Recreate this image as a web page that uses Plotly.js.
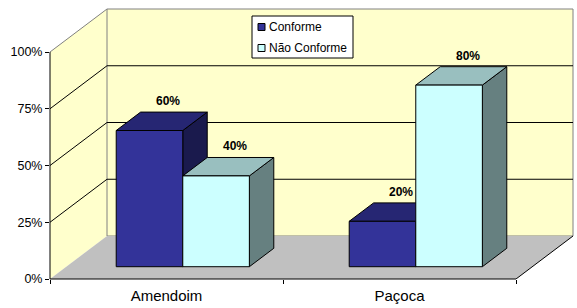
<!DOCTYPE html>
<html>
<head>
<meta charset="utf-8">
<script src="https://cdn.plot.ly/plotly-3.0.1.min.js"></script>
<style>html,body{margin:0;padding:0;background:#fff;}#chart{width:577px;height:308px;}</style>
</head>
<body>
<div id="chart"></div>
<script>
// ---- data ----
const categories = ['Amendoim', 'Paçoca'];
const seriesNames = ['Conforme', 'Não Conforme'];
const conforme = [60, 20];
const naoConforme = [40, 80];
const yTickValues = [0, 25, 50, 75, 100];
const yTickLabels = ['0%', '25%', '50%', '75%', '100%'];

// ---- styling / projection constants ----
const FONT = 'Liberation Sans, Arial, sans-serif';
const frontColors = ['#333399', '#CCFFFF'];
const topColors = ['#262673', '#99BFBF'];
const sideColors = ['#1A1A4D', '#668080'];
const WALL = '#FFFFCC', FLOOR = '#C0C0C0', EDGE = '#808080';
const M = {l: 50, r: 3, t: 8, b: 29};
const W_PX = 577, H_PX = 308;
const PX_PER_CAT = 233, PX_PER_PCT = 2.27;
const XR = (W_PX - M.l - M.r) / PX_PER_CAT;
const YR = (H_PX - M.t - M.b) / PX_PER_PCT;
const DX = 57 / PX_PER_CAT;   // depth offset in x units
const DY = 43 / PX_PER_PCT;   // depth offset in y units
const BW = 1 / 3.5;           // bar width (gap 150%)
const D0 = 0.2857, D1 = 0.7143; // bar depth range
const NCAT = categories.length;
const YMAX = yTickValues[yTickValues.length - 1];

function P(x, y, d) { return [x + d * DX, y + d * DY]; }
function poly(pts, close) { return 'M' + pts.map(p => p[0] + ',' + p[1]).join('L') + (close ? 'Z' : ''); }

const shapes = [];
// left wall
shapes.push({type: 'path', xref: 'x', yref: 'y', layer: 'below',
  path: poly([P(0, 0, 0), P(0, YMAX, 0), P(0, YMAX, 1), P(0, 0, 1)], true),
  fillcolor: WALL, line: {width: 0}});
// back wall
shapes.push({type: 'path', xref: 'x', yref: 'y', layer: 'below',
  path: poly([P(0, 0, 1), P(0, YMAX, 1), P(NCAT, YMAX, 1), P(NCAT, 0, 1)], true),
  fillcolor: WALL, line: {color: EDGE, width: 1}});
// floor
shapes.push({type: 'path', xref: 'x', yref: 'y', layer: 'below',
  path: poly([P(0, 0, 0), P(NCAT, 0, 0), P(NCAT, 0, 1), P(0, 0, 1)], true),
  fillcolor: FLOOR, line: {width: 0}});
// floor right edge
shapes.push({type: 'path', xref: 'x', yref: 'y', layer: 'below',
  path: poly([P(NCAT, 0, 0), P(NCAT, 0, 1)], false), line: {color: '#000', width: 1}});
// left wall top edge
shapes.push({type: 'path', xref: 'x', yref: 'y', layer: 'below',
  path: poly([P(0, YMAX, 0), P(0, YMAX, 1)], false), line: {color: EDGE, width: 1}});
// gridlines
yTickValues.forEach(v => {
  if (v === 0 || v === YMAX) return;
  shapes.push({type: 'path', xref: 'x', yref: 'y', layer: 'below',
    path: poly([P(0, v, 0), P(0, v, 1), P(NCAT, v, 1)], false), line: {color: '#000', width: 1}});
});
// bars: top and side faces + value labels
const series = [conforme, naoConforme];
const annotations = [];
for (let i = 0; i < NCAT; i++) {
  series.forEach((vals, s) => {
    const xl = i + 0.5 - BW + s * BW, xr = xl + BW, v = vals[i];
    shapes.push({type: 'path', xref: 'x', yref: 'y', layer: 'below',
      path: poly([P(xr, 0, D0), P(xr, v, D0), P(xr, v, D1), P(xr, 0, D1)], true),
      fillcolor: sideColors[s], line: {color: '#000', width: 1}});
    shapes.push({type: 'path', xref: 'x', yref: 'y', layer: 'below',
      path: poly([P(xl, v, D0), P(xr, v, D0), P(xr, v, D1), P(xl, v, D1)], true),
      fillcolor: topColors[s], line: {color: '#000', width: 1}});
    const lp = P((xl + xr) / 2, v, D1);
    annotations.push({x: lp[0], y: lp[1], xref: 'x', yref: 'y', text: v + '%', showarrow: false,
      xanchor: 'center', yanchor: 'bottom', xshift: -6, yshift: 2,
      font: {family: FONT, size: 12, color: '#000', weight: 'bold'}});
  });
}
// axis lines (unclipped)
shapes.push({type: 'line', xref: 'paper', yref: 'y', x0: 0, x1: 0, y0: 0, y1: YMAX, line: {color: '#000', width: 1}});
shapes.push({type: 'line', xref: 'x', yref: 'paper', x0: 0, x1: NCAT, y0: 0, y1: 0, line: {color: '#000', width: 1}});

// legend box
function px2paperX(px) { return (px - M.l) / (W_PX - M.l - M.r); }
function px2paperY(py) { return (H_PX - M.b - py) / (H_PX - M.t - M.b); }
shapes.push({type: 'rect', xref: 'paper', yref: 'paper', layer: 'above',
  x0: px2paperX(252), x1: px2paperX(353), y0: px2paperY(58), y1: px2paperY(16),
  fillcolor: '#fff', line: {color: '#000', width: 1}});
const legendRows = [27, 48];
seriesNames.forEach((name, s) => {
  const cy = legendRows[s];
  shapes.push({type: 'rect', xref: 'paper', yref: 'paper', layer: 'above',
    x0: px2paperX(258), x1: px2paperX(265), y0: px2paperY(cy + 3.5), y1: px2paperY(cy - 3.5),
    fillcolor: frontColors[s], line: {color: '#000', width: 1}});
  annotations.push({x: px2paperX(267), y: px2paperY(cy), xref: 'paper', yref: 'paper', text: name,
    showarrow: false, xanchor: 'left', yanchor: 'middle',
    font: {family: FONT, size: 12, color: '#000'}});
});

// front faces as bar traces (centre of each bar in the front plane)
const traces = series.map((vals, s) => ({
  type: 'bar', name: seriesNames[s],
  x: vals.map((v, i) => i + 0.5 - BW + s * BW + BW / 2 + D0 * DX),
  y: vals, base: vals.map(() => D0 * DY), width: BW,
  marker: {color: frontColors[s], line: {color: '#000', width: 1}},
  hoverinfo: 'skip', showlegend: false
}));

const layout = {
  width: W_PX, height: H_PX,
  margin: M,
  paper_bgcolor: '#fff', plot_bgcolor: '#fff',
  barmode: 'overlay', showlegend: false,
  font: {family: FONT, color: '#000'},
  xaxis: {range: [0, XR], showgrid: false, zeroline: false, showline: false, fixedrange: true,
    tickmode: 'array', tickvals: categories.map((c, i) => i + 0.5), ticktext: categories,
    ticks: '', ticklabelstandoff: 6, tickfont: {family: FONT, size: 15, color: '#000'},
    minor: {tickmode: 'array', tickvals: categories.map((c, i) => i).concat([NCAT]), ticks: 'outside', ticklen: 4, tickcolor: '#000', tickwidth: 1, showgrid: false}},
  yaxis: {range: [0, YR], showgrid: false, zeroline: false, showline: false, fixedrange: true,
    tickmode: 'array', tickvals: yTickValues, ticktext: yTickLabels,
    ticks: 'outside', ticklen: 4, tickcolor: '#000', tickwidth: 1,
    tickfont: {family: FONT, size: 12.5, color: '#000'}},
  shapes: shapes,
  annotations: annotations
};
Plotly.newPlot('chart', traces, layout, {displayModeBar: false, staticPlot: true});
</script>
</body>
</html>
